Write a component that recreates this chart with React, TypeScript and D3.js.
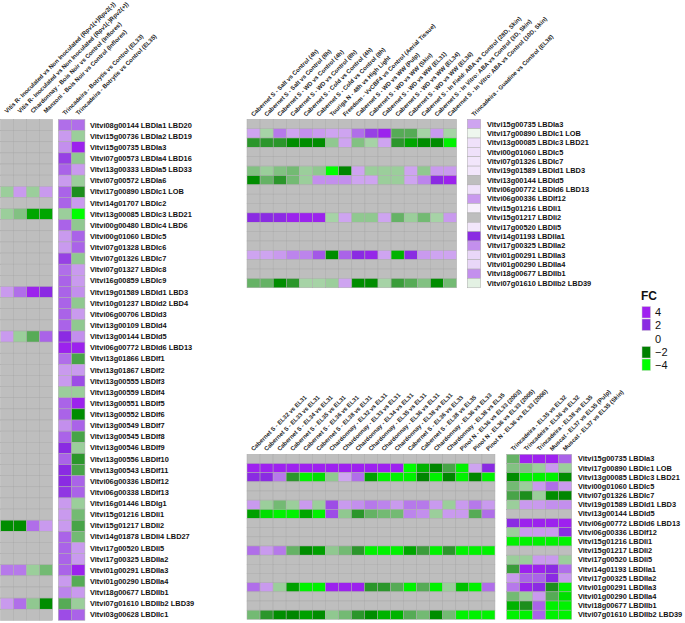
import React from "react";
import * as d3 from "d3";

const _ = null;

const LEFT_GENES = [
  "Vitvi08g00144 LBDIa1 LBD20", "Vitvi15g00736 LBDIa2 LBD19", "Vitvi15g00735 LBDIa3",
  "Vitvi07g00573 LBDIa4 LBD16", "Vitvi13g00333 LBDIa5 LBD33", "Vitvi07g00572 LBDIa6",
  "Vitvi17g00890 LBDIc1 LOB", "Vitvi14g01707 LBDIc2", "Vitvi13g00085 LBDIc3 LBD21",
  "Vitvi00g00480 LBDIc4 LBD6", "Vitvi00g01060 LBDIc5", "Vitvi07g01328 LBDIc6",
  "Vitvi07g01326 LBDIc7", "Vitvi07g01327 LBDIc8", "Vitvi16g00859 LBDIc9",
  "Vitvi19g01589 LBDId1 LBD3", "Vitvi10g01237 LBDId2 LBD4", "Vitvi06g00706 LBDId3",
  "Vitvi13g00109 LBDId4", "Vitvi13g00144 LBDId5", "Vitvi06g00772 LBDId6 LBD13",
  "Vitvi13g01866 LBDIf1", "Vitvi13g01867 LBDIf2", "Vitvi13g00555 LBDIf3",
  "Vitvi13g00559 LBDIf4", "Vitvi13g00551 LBDIf5", "Vitvi13g00552 LBDIf6",
  "Vitvi13g00549 LBDIf7", "Vitvi13g00545 LBDIf8", "Vitvi13g00546 LBDIf9",
  "Vitvi13g00556 LBDIf10", "Vitvi13g00543 LBDIf11", "Vitvi06g00336 LBDIf12",
  "Vitvi06g00338 LBDIf13", "Vitvi16g01446 LBDIg1", "Vitvi15g01216 LBDIi1",
  "Vitvi15g01217 LBDIi2", "Vitvi14g01878 LBDIi4 LBD27", "Vitvi17g00520 LBDIi5",
  "Vitvi17g00325 LBDIIa2", "Vitvi01g00291 LBDIIa3", "Vitvi01g00290 LBDIIa4",
  "Vitvi18g00677 LBDIIb1", "Vitvi07g01610 LBDIIb2 LBD39", "Vitvi03g00628 LBDIIc1",
];

const MID_GENES = [
  "Vitvi15g00735 LBDIa3", "Vitvi17g00890 LBDIc1 LOB", "Vitvi13g00085 LBDIc3 LBD21",
  "Vitvi00g01060 LBDIc5", "Vitvi07g01326 LBDIc7", "Vitvi19g01589 LBDId1 LBD3",
  "Vitvi13g00144 LBDId5", "Vitvi06g00772 LBDId6 LBD13", "Vitvi06g00336 LBDIf12",
  "Vitvi15g01216 LBDIi1", "Vitvi15g01217 LBDIi2", "Vitvi17g00520 LBDIi5",
  "Vitvi14g01193 LBDIIa1", "Vitvi17g00325 LBDIIa2", "Vitvi01g00291 LBDIIa3",
  "Vitvi01g00290 LBDIIa4", "Vitvi18g00677 LBDIIb1", "Vitvi07g01610 LBDIIb2 LBD39",
];

const LEFT_A_COLS = [
  "Vitis R- Inoculated vs Non Inoculated (Rpv1(+)Rpv2(-))",
  "Vitis R- Inoculated vs Non Inoculated (Rpv1(-)Rpv2(+))",
  "Chardonnay - Bois Noir vs Control (Inflores)",
  "Manzoni - Bois Noir vs Control (Inflores)",
];
const LEFT_B_COLS = [
  "Trincadeira - Botrytis vs Control (EL33)",
  "Trincadeira - Botrytis vs Control (EL35)",
];
const TOP_COLS = [
  "Cabernet S - Salt vs Control (4h)", "Cabernet S - Salt vs Control (8h)",
  "Cabernet S - WD vs Control (4h)", "Cabernet S - WD vs Control (8h)",
  "Cabernet S - Cold vs Control (4h)", "Cabernet S - Cold vs Control (8h)",
  "Touriga N - 48h vs High Light", "Freedom - VvCBF4 vs Control (Aerial Tissue)",
  "Cabernet S - WD vs WW (Pulp)", "Cabernet S - WD vs WW (Skin)",
  "Cabernet S - WD vs WW (EL31)", "Cabernet S - WD vs WW (EL34)",
  "Cabernet S - WD vs WW (EL36)", "Cabernet S - In Field: ABA vs Control (28D, Skin)",
  "Cabernet S - In Vitro: ABA vs Control (3D, Skin)", "Cabernet S - In Vitro: ABA vs Control (10D, Skin)",
];
const GUADINE_COLS = ["Trincadeira - Guadine vs Control (EL38)"];
const BOTTOM_COLS = [
  "Cabernet S - EL32 vs EL31", "Cabernet S - EL33 vs EL31", "Cabernet S - EL34 vs EL31",
  "Cabernet S - EL35 vs EL31", "Cabernet S - EL36 vs EL31", "Cabernet S - EL38 vs EL31",
  "Chardonnay - EL32 vs EL31", "Chardonnay - EL33 vs EL31", "Chardonnay - EL34 vs EL31",
  "Chardonnay - EL35 vs EL31", "Chardonnay - EL36 vs EL31", "Chardonnay - EL38 vs EL31",
  "Cabernet S - EL36 vs EL33", "Cabernet S - EL38 vs EL35", "Chardonnay - EL36 vs EL33",
  "Chardonnay - EL38 vs EL35", "Pinot N - EL36 vs EL33 (2003)", "Pinot N - EL36 vs EL33 (2005)",
  "Pinot N - EL36 vs EL33 (2006)",
];
const BOTTOM_RIGHT_COLS = [
  "Trincadeira - EL35 vs EL32", "Trincadeira - EL36 vs EL32", "Trincadeira - EL38 vs EL35",
  "Muscat - EL37 vs EL35 (Pulp)", "Muscat - EL37 vs EL35 (Skin)",
];

const LEFT_A_VALUES: (number | null)[][] = [
  [_, _, _, _], [_, _, _, _], [_, _, _, _], [_, _, _, _], [_, _, _, _], [_, _, _, _],
  [-0.9, 1.0, -0.9, 1.0], [_, _, _, _], [-0.9, -1.1, -2.6, -2.6], [_, _, _, _],
  [_, _, _, _], [_, _, _, _], [_, _, _, _], [_, _, _, _], [_, _, _, _],
  [1.0, 1.4, 3.6, 2.1], [_, _, _, _], [_, _, _, _], [_, _, _, _], [1.0, -0.9, -1.4, 1.5],
  [_, _, _, _], [_, _, _, _], [_, _, _, _], [_, _, _, _], [_, _, _, _], [_, _, _, _],
  [_, _, _, _], [_, _, _, _], [_, _, _, _], [_, _, _, _], [_, _, _, _], [_, _, _, _],
  [_, _, _, _], [_, _, _, _], [_, _, _, _], [_, _, _, _], [-2.2, -2.2, 1.4, 1.0],
  [_, _, _, _], [_, _, _, _], [_, _, _, _], [1.3, 1.3, -0.9, -1.2], [_, _, _, _],
  [_, _, _, _], [1.0, 1.4, -1.0, -2.2], [_, _, _, _],
];

const LEFT_B_VALUES: number[][] = [
  [1.4, 1.4], [1.0, -0.9], [1.1, 3.6], [1.8, -1.0], [1.5, 1.0], [1.0, -0.9],
  [1.5, -1.8], [1.5, 1.0], [-0.9, -4], [1.5, -1.0], [1.0, 1.5], [1.0, 1.5],
  [1.8, -1.0], [1.4, 1.0], [1.5, 1.0], [1.5, 1.1], [1.5, -1.0], [1.5, 1.0],
  [1.5, -1.0], [2.1, 1.1], [3.6, 3.6], [1.4, -1.5], [1.0, 1.0], [1.0, 1.7],
  [-0.9, -0.9], [1.5, 3.6], [1.5, -2.2], [1.1, 1.5], [1.5, -1.5], [2.0, -0.9],
  [1.5, -1.7], [2.0, -1.5], [2.0, 1.5], [1.9, 1.5], [1.0, -0.9], [1.0, -1.2],
  [1.0, -1.5], [1.5, -1.2], [1.5, 1.0], [1.5, 1.0], [1.5, 3.6], [1.0, -1.4],
  [1.2, 1.0], [-1.4, -0.9], [1.7, 1.5],
];

const NA16 = [_, _, _, _, _, _, _, _, _, _, _, _, _, _, _, _];
const TOP_VALUES: (number | null)[][] = [
  NA16,
  [0.9, -0.8, 1.3, 0.9, 1.1, 1.0, 0.9, 0.9, 1.4, 1.8, 3.6, -1.4, -1.4, -0.8, 1.0, -0.8],
  [-1.7, -1.7, -1.7, -2.2, -2.2, -2.2, -1.0, 0.9, -1.1, -0.8, 0.9, -1.7, -2.6, -2.2, -2.2, -3.8],
  NA16,
  NA16,
  [-1.1, -0.9, -1.1, -1.2, -0.9, -1.0, -4, -2.1, 0.9, -0.9, -0.9, -0.9, 0.9, -1.0, 1.0, 1.0],
  [-2.2, -1.3, -1.7, -1.2, -0.9, 1.1, 1.1, 1.1, 0.9, 0.9, -0.9, -0.9, 0.9, 1.2, 2.1, 3.6],
  NA16,
  NA16,
  NA16,
  [2.0, 2.0, 2.3, 3.5, 3.5, 3.5, -0.8, 0.9, -1.0, -1.0, 0.9, -1.3, -0.9, -1.2, -0.8, 1.0],
  NA16,
  NA16,
  NA16,
  [0.9, 0.9, 1.0, 1.2, 1.2, 1.6, -2.2, 1.5, 2.0, 3.0, 0.9, -2.8, 2.0, 1.0, 0.9, 0.9],
  NA16,
  NA16,
  [-1.3, -1.3, -2.2, -1.7, -0.8, -0.8, -0.9, 0.9, -2.2, -2.2, -0.8, -1.6, -1.4, -1.1, -2.2, -1.2],
];

const GUADINE_VALUES: (number | null)[] = [
  0.9, -0.15, 0.3, 0.3, 0.25, 0.25, _, 0.3, 1.0, 0.15, _, 0.25, 2.0, 1.1, 0.4, 0.4, 1.1, -0.25,
];

const NA19 = [_, _, _, _, _, _, _, _, _, _, _, _, _, _, _, _, _, _, _];
const BOTTOM_VALUES: (number | null)[][] = [
  NA19,
  [3.8, 3.8, 3.8, 3.8, 3.8, 3.8, 3.8, 3.8, 3.8, 3.8, 3.8, 3.8, -4, -2.8, -2.1, -1.5, -3.8, 0.9, 2.0],
  [2.0, 2.0, 1.3, -1.7, -3.8, -3.5, -1.0, 0.9, 1.4, -2.5, -3.8, -3.8, -3.8, -2.1, -3.8, -2.1, -3.8, -2.1, -3.8],
  NA19,
  NA19,
  [1.0, -0.9, -1.2, -0.9, 1.0, -0.9, 1.7, 1.0, 1.1, 1.3, 1.2, 1.0, 1.3, 1.3, 1.0, -0.9, 1.0, 1.3, 1.0],
  [-2.5, -3.5, -3.8, -3.8, -2.6, -3.8, 1.7, -1.0, -1.7, -1.3, -1.2, -1.2, 1.2, 1.1, -0.9, 1.0, 1.0, -1.4, 1.4],
  NA19,
  NA19,
  NA19,
  [1.4, 1.0, 1.3, -1.3, -2.2, -2.5, -1.0, -1.2, -1.7, -3.8, -3.8, -3.8, -2.6, -1.6, -3.8, -1.7, -3.8, -3.8, -3.8],
  NA19,
  NA19,
  NA19,
  [1.4, 1.0, -0.9, -2.5, -3.8, -3.8, 3.6, 3.6, 3.6, -1.7, -1.7, -1.4, -3.8, -1.4, -3.8, -0.9, -3.0, -3.8, 1.4],
  NA19,
  NA19,
  [-1.2, -1.7, -2.2, -2.1, -2.5, -2.2, -1.0, -1.2, -1.7, -2.2, -2.8, -2.8, -1.4, -1.2, -2.2, -1.2, -3.8, -3.8, -3.8],
];

const BOTTOM_RIGHT_VALUES: (number | null)[][] = [
  [-1.3, 3.8, 3.8, 3.8, 1.5],
  [-1.1, -1.1, -0.9, 1.0, -0.9],
  [-2.2, -3.8, -3.8, -3.8, -2.2],
  [-1.2, -0.9, 1.0, 1.4, 1.0],
  [-1.5, -1.8, -0.9, -2.2, -2.1],
  [-0.9, 1.0, 1.0, 1.1, 1.1],
  [_, _, _, _, _],
  [2.0, 3.6, 3.6, 3.6, 3.8],
  [-0.9, 1.0, 1.0, 1.0, 2.0],
  [-3.8, -3.8, -3.8, -3.8, -3.8],
  [_, _, _, _, _],
  [-0.9, -0.9, 1.0, 1.0, -0.9],
  [-1.6, 3.6, 3.6, 2.1, 1.4],
  [1.0, 1.5, 1.5, 2.1, 1.0],
  [1.3, 3.2, 2.1, -1.8, -3.8],
  [-1.2, -0.9, 1.0, -1.4, -3.5],
  [-2.8, -1.8, 1.5, -3.8, -3.8],
  [-3.8, -3.8, 1.5, -3.8, -3.8],
];

const LEGEND_VALUES = [4, 2, 0, -2, -4];

const color = d3
  .scaleLinear<string>()
  .domain([-4, -2, -1, 0, 1, 2, 4])
  .range(["#00ff00", "#008000", "#90c890", "#ffffff", "#c99aee", "#8a2be2", "#a020f0"])
  .interpolate(d3.interpolateRgb)
  .clamp(true);

const NA_FILL = "#bebebe";
const FONT = "'Liberation Sans', Arial, sans-serif";

type PanelProps = {
  cols: string[];
  rows: string[];
  values: (number | null)[][];
  x0: number;
  cellW: number;
  top: number;
  cellH: number;
  headerGap: number;
  labelX?: number;
};

function Panel({ cols, rows, values, x0, cellW, top, cellH, headerGap, labelX }: PanelProps) {
  const x = d3.scaleBand<number>().domain(d3.range(cols.length)).range([x0, x0 + cols.length * cellW]).padding(0);
  const y = d3.scaleBand<number>().domain(d3.range(rows.length)).range([top, top + rows.length * cellH]).padding(0);
  return (
    <g>
      {values.map((row, ri) =>
        row.map((v, ci) => (
          <rect
            key={`${ri}-${ci}`}
            x={x(ci)}
            y={y(ri)}
            width={x.bandwidth()}
            height={y.bandwidth()}
            fill={v === null ? NA_FILL : color(v)}
            stroke="#aaaaaa"
            strokeWidth={0.5}
          />
        ))
      )}
      {cols.map((c, ci) => {
        const cx = (x(ci) as number) + x.bandwidth() / 2;
        const cy = top - headerGap;
        return (
          <text
            key={c}
            transform={`translate(${cx},${cy}) rotate(-45)`}
            fontSize={6}
            fontWeight="bold"
            fill="#222"
            fontFamily={FONT}
          >
            {c}
          </text>
        );
      })}
      {labelX !== undefined &&
        rows.map((r, ri) => (
          <text
            key={r}
            x={labelX}
            y={(y(ri) as number) + y.bandwidth() / 2}
            dy="0.35em"
            fontSize={7.4}
            fontWeight="bold"
            fill="#111"
            fontFamily={FONT}
          >
            {r}
          </text>
        ))}
    </g>
  );
}

function Legend() {
  const boxTop = [306.5, 319, 333, 346.5, 359];
  return (
    <g fontFamily={FONT}>
      <text x={641} y={300} fontSize={12} fontWeight="bold" fill="#111">
        FC
      </text>
      {LEGEND_VALUES.map((v, i) => (
        <g key={v}>
          {v !== 0 && (
            <rect x={642} y={boxTop[i]} width={8.5} height={11.5} fill={color(v)} stroke="#cfcfcf" strokeWidth={0.5} />
          )}
          <text x={655} y={boxTop[i] + 9.5} fontSize={11} fill="#111">
            {v < 0 ? `\u2212${Math.abs(v)}` : `${v}`}
          </text>
        </g>
      ))}
    </g>
  );
}

export default function App() {
  return (
    <svg
      width={685}
      height={623}
      style={{ position: "absolute", left: 0, top: 0, background: "#fff" }}
    >
      <rect x={0} y={0} width={685} height={623} fill="#fff" />
      <Panel cols={LEFT_A_COLS} rows={LEFT_GENES} values={LEFT_A_VALUES} x0={0.5} cellW={13} top={119.5} cellH={11.13} headerGap={6} />
      <Panel cols={LEFT_B_COLS} rows={LEFT_GENES} values={LEFT_B_VALUES} x0={58.3} cellW={13.3} top={119.5} cellH={11.13} headerGap={4} labelX={90} />
      <Panel cols={TOP_COLS} rows={MID_GENES} values={TOP_VALUES} x0={247} cellW={13.1} top={119.3} cellH={9.36} headerGap={2.5} />
      <Panel cols={GUADINE_COLS} rows={MID_GENES} values={GUADINE_VALUES.map((v) => [v])} x0={467.3} cellW={13.4} top={119.3} cellH={9.36} headerGap={2.5} labelX={487} />
      <Panel cols={BOTTOM_COLS} rows={MID_GENES} values={BOTTOM_VALUES} x0={247} cellW={13.05} top={454.3} cellH={9.17} headerGap={3} />
      <Panel cols={BOTTOM_RIGHT_COLS} rows={MID_GENES} values={BOTTOM_RIGHT_VALUES} x0={506.7} cellW={13} top={454.3} cellH={9.17} headerGap={3} labelX={578} />
      <Legend />
    </svg>
  );
}
